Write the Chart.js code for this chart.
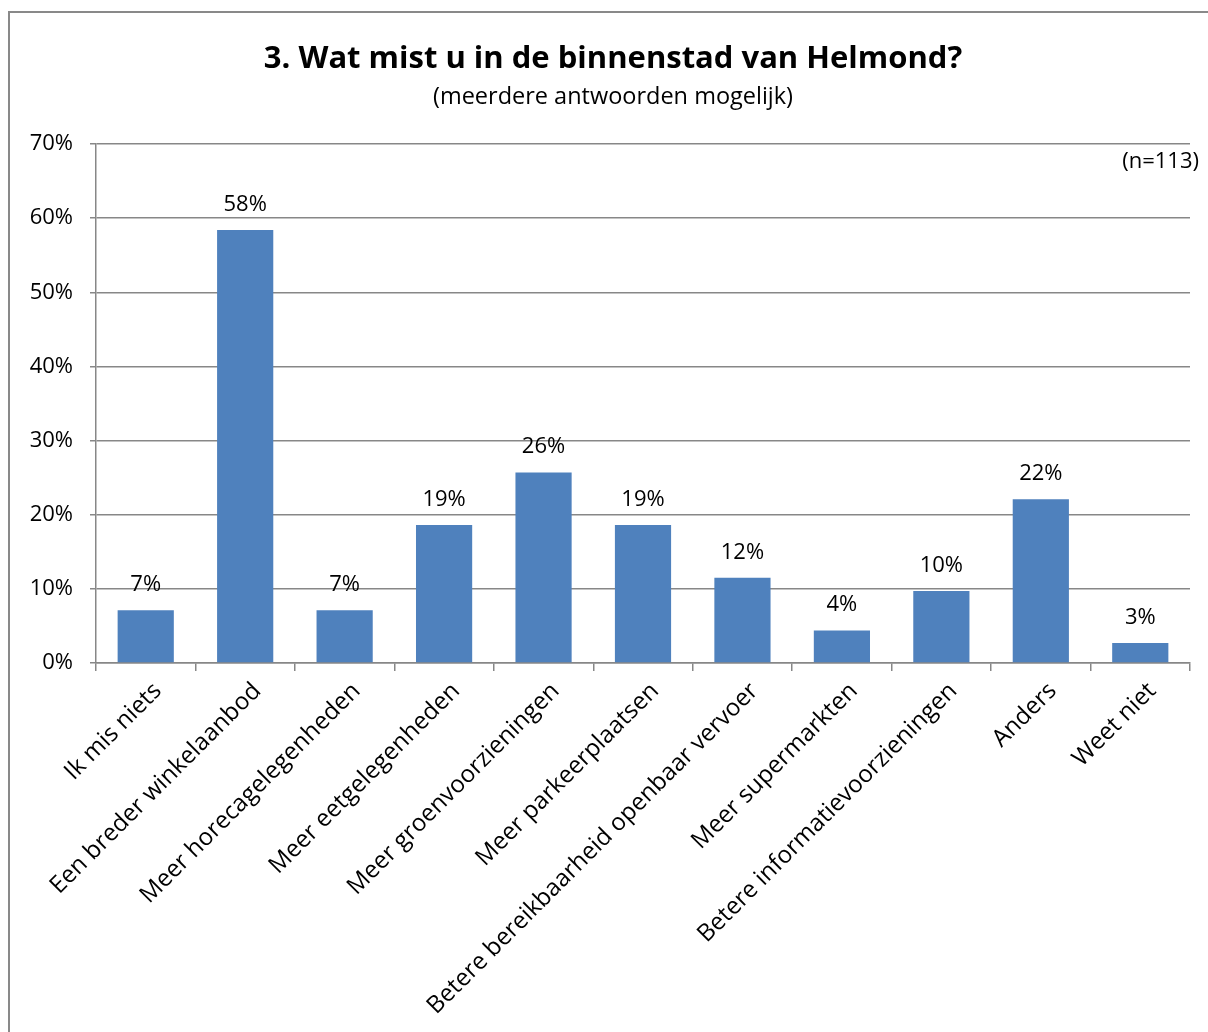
<!DOCTYPE html>
<html>
<head>
<meta charset="utf-8">
<script src="https://cdn.jsdelivr.net/npm/chart.js@4.4.0/dist/chart.umd.min.js"></script>
<style>
  html, body { margin: 0; padding: 0; background: #fff; overflow: hidden; }
  #wrap { position: relative; width: 1208px; height: 1032px; }
  #frame { position: absolute; left: 8px; top: 11px; width: 1300px; height: 1100px; border: 2px solid #898989; }
  canvas { position: absolute; left: 0; top: 0; }
</style>
</head>
<body>
<div id="wrap">
  <div id="frame"></div>
  <canvas id="chart" width="1208" height="1032"></canvas>
</div>
<script>
const titleText = '3. Wat mist u in de binnenstad van Helmond?';
const subtitleText = '(meerdere antwoorden mogelijk)';
const sampleNote = '(n=113)';

const categories = [
    'Ik mis niets',
    'Een breder winkelaanbod',
    'Meer horecagelegenheden',
    'Meer eetgelegenheden',
    'Meer groenvoorzieningen',
    'Meer parkeerplaatsen',
    'Betere bereikbaarheid openbaar vervoer',
    'Meer supermarkten',
    'Betere informatievoorzieningen',
    'Anders',
    'Weet niet'
];
const percentages = [7.1, 58.4, 7.1, 18.6, 25.7, 18.6, 11.5, 4.4, 9.7, 22.1, 2.7];
const yTicks = [0, 10, 20, 30, 40, 50, 60, 70];

const FONT = '"Open Sans", Lato, sans-serif';
const GRID = '#878787';

// titles, note and value labels
const textPlugin = {
    id: 'texts',
    afterDatasetsDraw(chart) {
        const ctx = chart.ctx;
        ctx.save();
        ctx.fillStyle = '#000';
        ctx.textAlign = 'center';
        ctx.textBaseline = 'alphabetic';
        ctx.font = 'bold 31px ' + FONT;
        ctx.fillText(titleText, 613, 68);
        ctx.font = '23.5px ' + FONT;
        ctx.fillText(subtitleText, 613, 104);

        ctx.font = '22px ' + FONT;
        ctx.textAlign = 'right';
        ctx.fillText(sampleNote, 1199, 168);

        ctx.textAlign = 'center';
        const meta = chart.getDatasetMeta(0);
        meta.data.forEach((bar, i) => {
            ctx.fillText(Math.round(percentages[i]) + '%', bar.x, bar.y - 19);
        });
        ctx.restore();
    }
};

new Chart(document.getElementById('chart'), {
    type: 'bar',
    data: {
        labels: categories,
        datasets: [{
            data: percentages,
            backgroundColor: '#4F81BD',
            borderWidth: 0,
            categoryPercentage: 1,
            barPercentage: 0.565
        }]
    },
    options: {
        responsive: false,
        animation: false,
        layout: { padding: { top: 144, right: 18, left: 0, bottom: 0 } },
        plugins: {
            legend: { display: false },
            tooltip: { enabled: false }
        },
        scales: {
            x: {
                afterFit: s => { s.height = 369; },
                grid: {
                    offset: true,
                    drawOnChartArea: false,
                    drawTicks: true,
                    tickLength: 8,
                    color: GRID,
                    lineWidth: 1.5
                },
                border: { color: GRID, width: 1.5 },
                ticks: {
                    minRotation: 45,
                    maxRotation: 45,
                    autoSkip: false,
                    padding: 6,
                    labelOffset: 12,
                    color: '#000',
                    font: { family: FONT, size: 24 }
                }
            },
            y: {
                min: 0,
                max: 70,
                afterFit: s => { s.width = 96; },
                afterBuildTicks: s => { s.ticks = yTicks.map(v => ({ value: v })); },
                grid: { color: GRID, lineWidth: 1.5, tickLength: 6 },
                border: { color: GRID, width: 1.5 },
                ticks: {
                    padding: 17,
                    color: '#000',
                    font: { family: FONT, size: 22 },
                    callback: v => v + '%'
                }
            }
        }
    },
    plugins: [textPlugin]
});
</script>
</body>
</html>
